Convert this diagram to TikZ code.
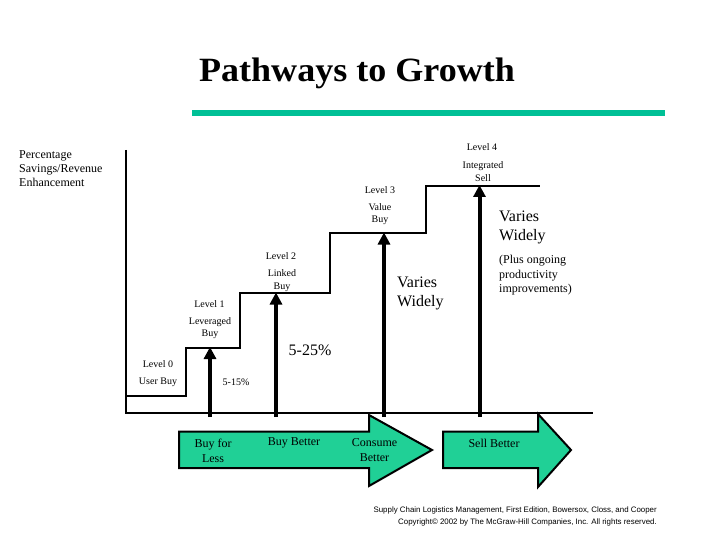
\documentclass[tikz,border=0pt]{standalone}
\usepackage{fontspec}
\setmainfont{Liberation Serif}
\newfontfamily\footfont{Liberation Sans}
\usetikzlibrary{arrows.meta}
\definecolor{tealline}{RGB}{0,192,150}
\definecolor{tealfill}{RGB}{32,208,150}
\tikzset{
  lbl/.style={inner sep=0pt, align=center, font=\fontsize{10}{12.5}\selectfont},
  midlbl/.style={inner sep=0pt, align=center, font=\fontsize{12}{15}\selectfont},
  biglbl/.style={inner sep=0pt, align=left, anchor=west, font=\fontsize{16}{19}\selectfont},
  axisline/.style={line width=2pt},
  uparrow/.style={line width=4pt, -{Triangle[width=12pt,length=12pt]}},
  greenarrow/.style={fill=tealfill, draw=black, line width=2pt, line join=miter}
}
\begin{document}
\begin{tikzpicture}[x=1pt,y=-1pt]
\useasboundingbox (0,0) rectangle (720,540);
% title
\node[inner sep=0pt, xscale=1.06, font=\fontsize{34}{40}\bfseries\selectfont] (title) at (357,73) {Pathways to Growth};
\draw[tealline, line width=6.5pt] (192,113) -- (665,113);
% axis label
\node[inner sep=0pt, anchor=west, align=left, font=\fontsize{12}{14}\selectfont] (ylab) at (19,169) {Percentage\\Savings/Revenue\\Enhancement};
% axes
\coordinate (otop) at (126,150);
\coordinate (orig) at (126,413);
\coordinate (xend) at (593,413);
\draw[axisline] (otop) -- (orig) -- (xend);
% staircase
\draw[axisline, line join=miter] (126,396) -- (186,396) -- (186,347.7) -- (240,347.7) -- (240,293.3) -- (330,293.3) -- (330,233.3) -- (426,233.3) -- (426,185.7) -- (540,185.7);
% thick arrows
\coordinate (a1s) at (210,417); \coordinate (a1e) at (210,347);
\coordinate (a2s) at (276,417); \coordinate (a2e) at (276,292.5);
\coordinate (a3s) at (384,417); \coordinate (a3e) at (384,232.5);
\coordinate (a4s) at (479.5,417); \coordinate (a4e) at (479.5,185);
\draw[uparrow] (a1s) -- (a1e);
\draw[uparrow] (a2s) -- (a2e);
\draw[uparrow] (a3s) -- (a3e);
\draw[uparrow] (a4s) -- (a4e);
% level labels
\node[lbl] (l0) at (158,364) {Level 0};
\node[lbl] (l0n) at (158,382) {User Buy};
\node[lbl] (l1) at (209.5,304) {Level 1};
\node[lbl] (l1n) at (210,328) {Leveraged\\Buy};
\node[lbl] (l2) at (281,256) {Level 2};
\node[lbl] (l2n) at (282,280.5) {Linked\\Buy};
\node[lbl] (l3) at (380,190) {Level 3};
\node[lbl] (l3n) at (380,214) {Value\\Buy};
\node[lbl] (l4) at (482,147) {Level 4};
\node[lbl] (l4n) at (483,171.5) {Integrated\\Sell};
% percentages
\node[lbl] (p1) at (236,382) {5-15\%};
\node[inner sep=0pt, font=\fontsize{16}{19}\selectfont] (p2) at (310,350.5) {5-25\%};
\node[biglbl] (vw1) at (397,293.5) {Varies\\Widely};
\node[biglbl] (vw2) at (499,227.5) {Varies\\Widely};
\node[inner sep=0pt, anchor=west, align=left, font=\fontsize{12}{14.5}\selectfont] (plus) at (499,275.5) {(Plus ongoing\\productivity\\improvements)};
% green arrows
\draw[greenarrow] (179,431.7) -- (369,431.7) -- (369,415) -- (432,450) -- (369,486) -- (369,468) -- (179,468) -- cycle;
\draw[greenarrow] (443,431.7) -- (538,431.7) -- (538,414) -- (571,450) -- (538,487) -- (538,468) -- (443,468) -- cycle;
\node[midlbl] (g1) at (213,450.5) {Buy for\\Less};
\node[midlbl] (g2) at (294,443) {Buy Better};
\node[midlbl] (g3) at (374.5,450.5) {Consume\\Better};
\node[midlbl] (g4) at (494,443) {Sell Better};
% footer
\node[inner sep=0pt, anchor=east, align=right, font=\footfont\fontsize{7.9}{12}\selectfont] (foot) at (657,516.5) {Supply Chain Logistics Management, First Edition, Bowersox, Closs, and Cooper\\Copyright\textcopyright{} 2002 by The McGraw-Hill Companies, Inc. All rights reserved.};
\end{tikzpicture}
\end{document}
